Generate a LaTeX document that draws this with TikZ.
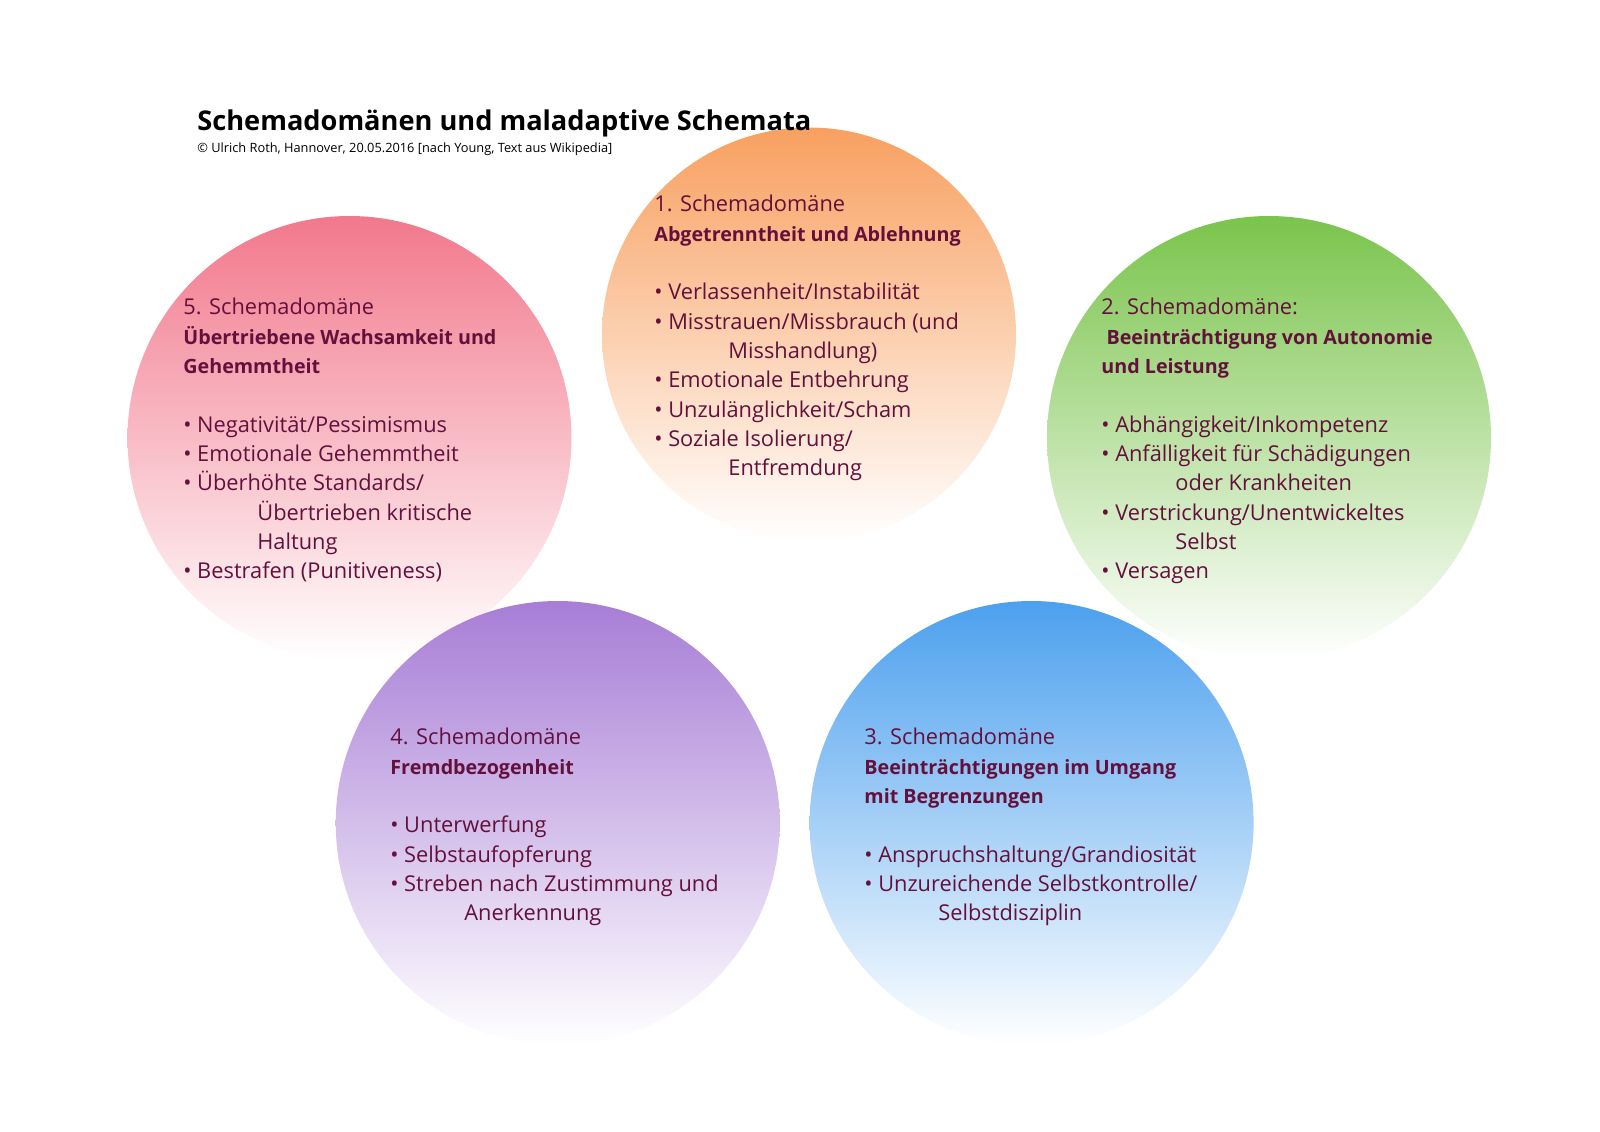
\documentclass[tikz,border=0pt]{standalone}
\usepackage{fontspec}
\setmainfont{Open Sans}
\definecolor{txt}{RGB}{100,16,60}
\definecolor{corange}{RGB}{248,160,96}
\definecolor{cpink}{RGB}{242,120,140}
\definecolor{cgreen}{RGB}{122,196,76}
\definecolor{cpurple}{RGB}{167,125,214}
\definecolor{cblue}{RGB}{76,160,238}
\newcommand{\ind}{\hspace*{37pt}}
\newcommand{\hd}[1]{{\fontsize{9.85}{14.65}\selectfont\bfseries #1}}
\begin{document}
\begin{tikzpicture}[x=0.5pt,y=-0.5pt,
  dcircle/.style={circle, inner sep=0pt, draw=none, minimum size=222pt},
  body/.style={anchor=north west, inner sep=0pt, align=left, text=txt,
    font=\fontsize{10.9}{14.65}\selectfont}]
\useasboundingbox (0,0) rectangle (1600,1131);
\fill[white] (0,0) rectangle (1600,1131);

\node[dcircle, top color=cpink, bottom color=white, middle color=cpink!50!white] (c5) at (349.5,438) {};
\node[dcircle, top color=cgreen, bottom color=white, middle color=cgreen!50!white] (c2) at (1269,438) {};
\node[dcircle, minimum size=207pt, top color=corange, bottom color=white, middle color=corange!50!white] (c1) at (809,334.5) {};
\node[dcircle, top color=cpurple, bottom color=white, middle color=cpurple!50!white] (c4) at (557.7,823) {};
\node[dcircle, top color=cblue, bottom color=white, middle color=cblue!50!white] (c3) at (1031.6,823) {};

\node[body] (t1) at (654,195) {1. Schemadomäne\\
\hd{Abgetrenntheit und Ablehnung}\\[14.65pt]
• Verlassenheit/Instabilität\\
• Misstrauen/Missbrauch (und\\
\ind Misshandlung)\\
• Emotionale Entbehrung\\
• Unzulänglichkeit/Scham\\
• Soziale Isolierung/\\
\ind Entfremdung};

\node[body] (t5) at (183,298) {5. Schemadomäne\\
\hd{Übertriebene Wachsamkeit und}\\
\hd{Gehemmtheit}\\[14.65pt]
• Negativität/Pessimismus\\
• Emotionale Gehemmtheit\\
• Überhöhte Standards/\\
\ind Übertrieben kritische\\
\ind Haltung\\
• Bestrafen (Punitiveness)};

\node[body] (t2) at (1101,298) {2. Schemadomäne:\\
\hd{\ Beeinträchtigung von Autonomie}\\
\hd{und Leistung}\\[14.65pt]
• Abhängigkeit/Inkompetenz\\
• Anfälligkeit für Schädigungen\\
\ind oder Krankheiten\\
• Verstrickung/Unentwickeltes\\
\ind Selbst\\
• Versagen};

\node[body] (t4) at (390,728) {4. Schemadomäne\\
\hd{Fremdbezogenheit}\\[14.65pt]
• Unterwerfung\\
• Selbstaufopferung\\
• Streben nach Zustimmung und\\
\ind Anerkennung};

\node[body] (t3) at (864,728) {3. Schemadomäne\\
\hd{Beeinträchtigungen im Umgang}\\
\hd{mit Begrenzungen}\\[14.65pt]
• Anspruchshaltung/Grandiosität\\
• Unzureichende Selbstkontrolle/\\
\ind Selbstdisziplin};

\node[anchor=base west, inner sep=0pt, font=\fontsize{13.6}{17}\selectfont\bfseries] (title) at (197,130) {Schemadomänen und maladaptive Schemata};
\node[anchor=base west, inner sep=0pt, font=\fontsize{6.4}{7.5}\selectfont] (sub) at (197,152) {© Ulrich Roth, Hannover, 20.05.2016 [nach Young, Text aus Wikipedia]};
\end{tikzpicture}
\end{document}
